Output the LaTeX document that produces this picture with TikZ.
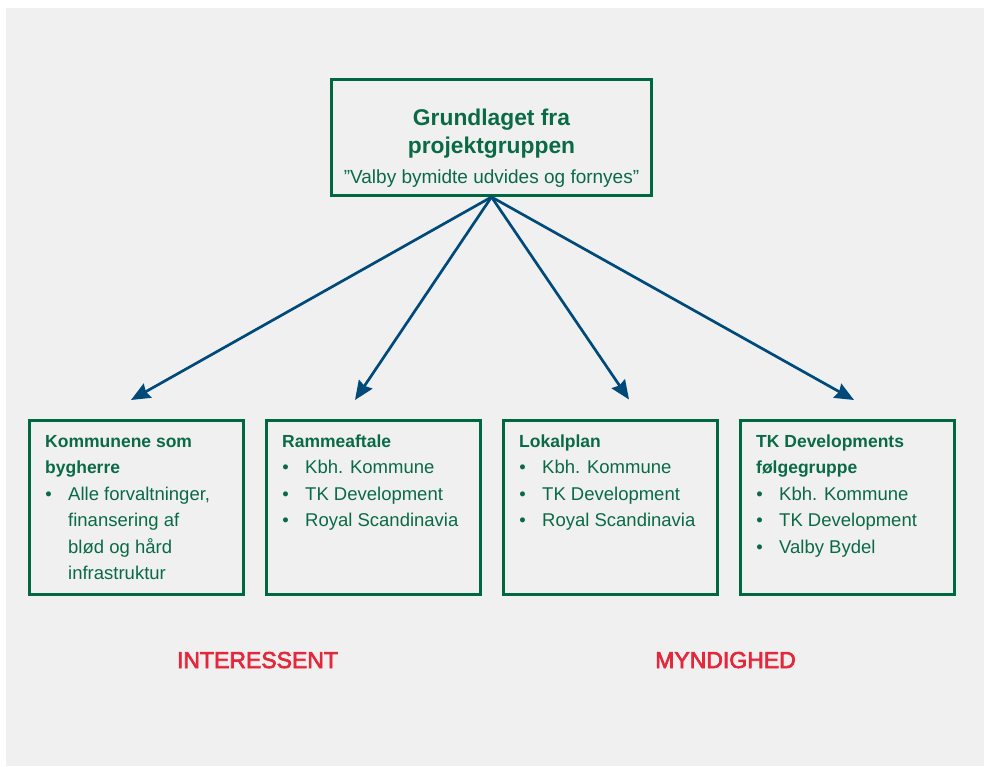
\documentclass[tikz,border=0pt]{standalone}
\usepackage{fontspec}
\setmainfont{Liberation Sans}
\newfontfamily\labfont[FakeBold=3]{Liberation Sans}
\usetikzlibrary{arrows.meta}
\definecolor{bggray}{RGB}{240,240,240}
\definecolor{boxgreen}{RGB}{0,104,64}
\definecolor{txtgreen}{RGB}{10,106,70}
\definecolor{arrblue}{RGB}{0,74,122}
\definecolor{labred}{RGB}{228,40,60}
\begin{document}
\begin{tikzpicture}[x=1pt,y=-1pt,
  box/.style={draw=boxgreen, line width=2.6pt, inner sep=0pt},
  ln/.style={anchor=base west, inner sep=0pt, text=txtgreen, font=\fontsize{18.5}{22}\selectfont},
  hd/.style={anchor=base west, inner sep=0pt, text=txtgreen, font=\fontsize{17.5}{22}\selectfont\bfseries},
  bul/.style={anchor=base, inner sep=0pt, text=txtgreen, font=\fontsize{18.5}{22}\selectfont},
  ttl/.style={anchor=base, inner sep=0pt, text=txtgreen, font=\fontsize{22.8}{26}\selectfont\bfseries},
  sub/.style={anchor=base, inner sep=0pt, text=txtgreen, font=\fontsize{19}{22}\selectfont},
  arr/.style={draw=arrblue, line width=2.7pt, -{Stealth[length=19pt,width=16pt,inset=2pt]}},
  lab/.style={anchor=base, inner sep=0pt, text=labred, font=\labfont\fontsize{23}{26}\selectfont}]

\useasboundingbox (0,0) rectangle (984,766);
\fill[bggray] (6,8) rectangle (984,766);

% top box
\node[box, minimum width=320.4pt, minimum height=116.4pt] (top) at (491.5,137.5) {};
\node[ttl] (t1l) at (491.5,125) {Grundlaget fra};
\node[ttl] (t2l) at (491.5,153) {projektgruppen};
\node[sub] (t3l) at (491.5,183) {”Valby bymidte udvides og fornyes”};

% bottom boxes
\node[box, minimum width=214pt, minimum height=174pt] (b1) at (136.5,507.5) {};
\node[box, minimum width=214pt, minimum height=174pt] (b2) at (373.5,507.5) {};
\node[box, minimum width=214pt, minimum height=174pt] (b3) at (610.2,507.5) {};
\node[box, minimum width=214pt, minimum height=174pt] (b4) at (847.2,507.5) {};

% box 1
\node[hd] (b1h1) at (45,447) {Kommunene som};
\node[hd] (b1h2) at (45,473.5) {bygherre};
\node[bul] (b1d1) at (48.5,500) {•};
\node[ln] (b1i1) at (68,500) {Alle forvaltninger,};
\node[ln] (b1i2) at (68,526.5) {finansering af};
\node[ln] (b1i3) at (68,553) {blød og hård};
\node[ln] (b1i4) at (68,579.5) {infrastruktur};

% box 2
\node[hd] (b2h1) at (282,447) {Rammeaftale};
\node[bul] (b2d1) at (285.5,473.5) {•};
\node[ln] (b2i1) at (305,473.5) {Kbh. Kommune};
\node[bul] (b2d2) at (285.5,500) {•};
\node[ln] (b2i2) at (305,500) {TK Development};
\node[bul] (b2d3) at (285.5,526.5) {•};
\node[ln] (b2i3) at (305,526.5) {Royal Scandinavia};

% box 3
\node[hd] (b3h1) at (519,447) {Lokalplan};
\node[bul] (b3d1) at (522.5,473.5) {•};
\node[ln] (b3i1) at (542,473.5) {Kbh. Kommune};
\node[bul] (b3d2) at (522.5,500) {•};
\node[ln] (b3i2) at (542,500) {TK Development};
\node[bul] (b3d3) at (522.5,526.5) {•};
\node[ln] (b3i3) at (542,526.5) {Royal Scandinavia};

% box 4
\node[hd] (b4h1) at (756,447) {TK Developments};
\node[hd] (b4h2) at (756,473.5) {følgegruppe};
\node[bul] (b4d1) at (759.5,500) {•};
\node[ln] (b4i1) at (779,500) {Kbh. Kommune};
\node[bul] (b4d2) at (759.5,526.5) {•};
\node[ln] (b4i2) at (779,526.5) {TK Development};
\node[bul] (b4d3) at (759.5,553) {•};
\node[ln] (b4i3) at (779,553) {Valby Bydel};

% arrows
\coordinate (a1) at (131,400);
\coordinate (a2) at (355,400);
\coordinate (a3) at (629,399.5);
\coordinate (a4) at (854,400);
\draw[arr] (top.south) -- (a1);
\draw[arr] (top.south) -- (a2);
\draw[arr] (top.south) -- (a3);
\draw[arr] (top.south) -- (a4);

% labels
\node[lab] (l1) at (257.5,668) {INTERESSENT};
\node[lab] (l2) at (725.5,668) {MYNDIGHED};
\end{tikzpicture}
\end{document}
